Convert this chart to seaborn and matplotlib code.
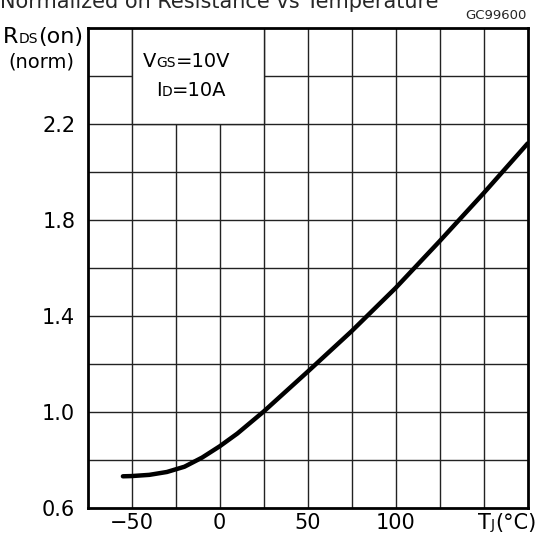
import numpy as np
import pandas as pd
import matplotlib
matplotlib.use("Agg")
import matplotlib.pyplot as plt
import seaborn as sns
from matplotlib.patches import Rectangle
from matplotlib.offsetbox import TextArea, HPacker, AnnotationBbox

# curve
temp_c = [-55, -50, -40, -30, -20, -10, 0, 10, 25, 50, 75, 100, 125, 150, 175]
rds_norm = [0.73, 0.731, 0.736, 0.748, 0.770, 0.808, 0.855, 0.908, 1.0, 1.166, 1.335,
            1.515, 1.71, 1.91, 2.117]

x_ticks = [-50, 0, 50, 100]
x_tick_labels = ["\u221250", "0", "50", "100"]
y_ticks = [0.6, 1.0, 1.4, 1.8, 2.2]
y_tick_labels = ["0.6", "1.0", "1.4", "1.8", "2.2"]

df = pd.DataFrame({"Tj": temp_c, "Rds": rds_norm})

sns.set_style("white")
plt.rcParams['font.family'] = ['DejaVu Sans']

fig = plt.figure(figsize=(5.42, 5.38), dpi=100)
ax = fig.add_axes([87.7 / 542, 1 - 507.5 / 538, 440 / 542, 480 / 538])

ax.set_xlim(-75, 175)
ax.set_ylim(0.6, 2.6)

# grid every 25 degC / 0.2
for xv in np.arange(-50, 175, 25):
    ax.axvline(xv, color="#222222", lw=1.0, zorder=1)
for yv in np.arange(0.8, 2.6, 0.2):
    ax.axhline(yv, color="#222222", lw=1.0, zorder=1)

# white box for the conditions
ax.add_patch(Rectangle((-50, 2.2), 75, 0.45, facecolor="white", edgecolor="#222222",
                       lw=1.0, zorder=2, clip_on=True))

sns.lineplot(data=df, x="Tj", y="Rds", ax=ax, color="black", lw=3.2, zorder=3)

for s in ax.spines.values():
    s.set_color("black")
    s.set_linewidth(2)

ax.set_xticks(x_ticks)
ax.set_xticklabels(x_tick_labels)
ax.set_yticks(y_ticks)
ax.set_yticklabels(y_tick_labels)
ax.tick_params(axis="both", length=0, labelsize=15, colors="black")
ax.tick_params(axis="x", pad=4)
ax.tick_params(axis="y", pad=9)
ax.set_xlabel("")
ax.set_ylabel("")


def mixed(parts):
    boxes = [TextArea(t, textprops=dict(fontsize=fs, color="black")) for t, fs in parts]
    return HPacker(children=boxes, align="baseline", pad=0, sep=0)


def place(parts, xy, coords, align):
    ab = AnnotationBbox(mixed(parts), xy, xycoords=coords, box_alignment=align,
                        frameon=False, pad=0, annotation_clip=False)
    ax.add_artist(ab)


place([("V", 14), ("GS", 10), ("=10V", 14)], (143, 538 - 71), "figure pixels", (0, 0))
place([("I", 14), ("D", 10), ("=10A", 14)], (156, 538 - 100), "figure pixels", (0, 0))

place([("R", 16), ("DS", 10), ("(on)", 16)], (3, 538 - 47), "figure pixels", (0, 0))
place([("(norm)", 14)], (8, 538 - 72), "figure pixels", (0, 0))

place([("T", 15), ("J", 10), ("(\u00b0C)", 15)], (478, 538 - 533), "figure pixels", (0, 0))

fig.text(0 / 542, 1 - 8 / 538, "Normalized on Resistance vs Temperature", fontsize=15,
         ha="left", va="baseline")
fig.text(527 / 542, 1 - 15.7 / 538, "GC99600", fontsize=9.5, ha="right", va="center")

fig.savefig("out.png", dpi=100)
